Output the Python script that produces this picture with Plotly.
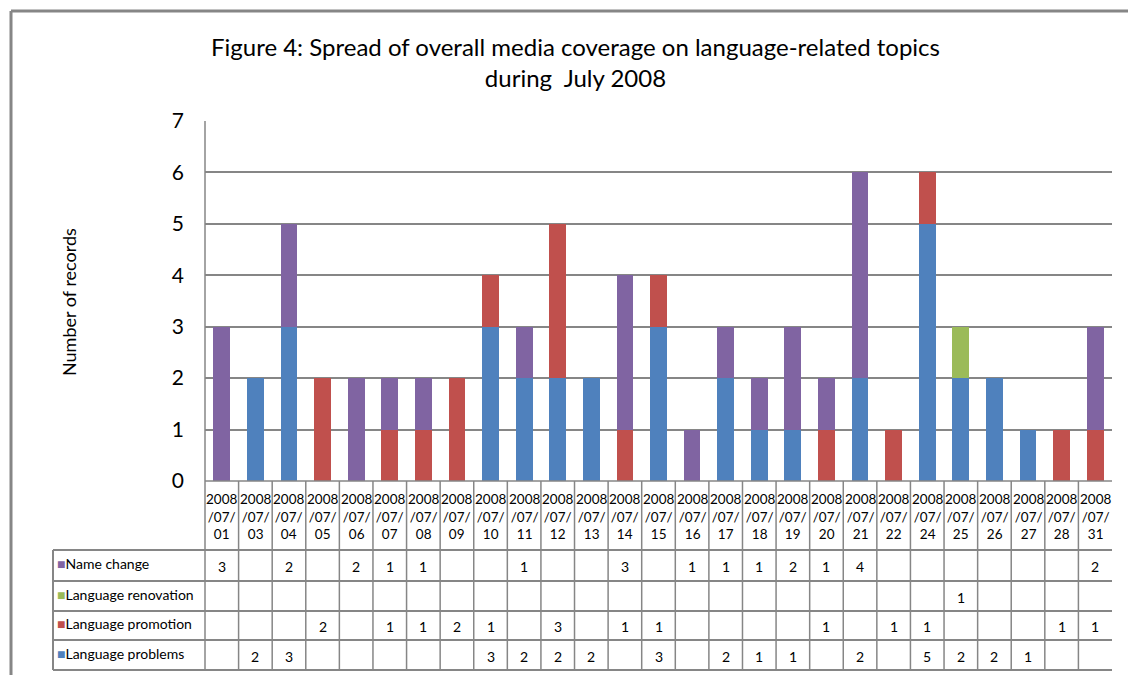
import plotly.graph_objects as go

# days of July 2008 that had records
days = ["01", "03", "04", "05", "06", "07", "08", "09", "10", "11", "12", "13", "14", "15",
        "16", "17", "18", "19", "20", "21", "22", "24", "25", "26", "27", "28", "31"]
categories = ["2008/07/" + d for d in days]

name_change = [3, None, 2, None, 2, 1, 1, None, None, 1, None, None, 3, None,
               1, 1, 1, 2, 1, 4, None, None, None, None, None, None, 2]
language_renovation = [None] * 22 + [1] + [None] * 4
language_promotion = [None, None, None, 2, None, 1, 1, 2, 1, None, 3, None, 1, 1,
                      None, None, None, None, 1, None, 1, 1, None, None, None, 1, 1]
language_problems = [None, 2, 3, None, None, None, None, None, 3, 2, 2, 2, None, 3,
                     None, 2, 1, 1, None, 2, None, 5, 2, 2, 1, None, None]

# bottom to top in the stack
series = [
    ("Language problems", language_problems, "#4F81BD"),
    ("Language promotion", language_promotion, "#C0504D"),
    ("Language renovation", language_renovation, "#9BBB59"),
    ("Name change", name_change, "#8064A2"),
]
# order of rows in the data table
table_rows = [series[3], series[2], series[1], series[0]]

W, H = 1128, 675
FONT = "Lato"
GRID = "#868686"


def px(x):
    return x / W


def py(y):
    return 1 - y / H


plot_left, plot_right, plot_top, plot_bottom = 205, 1112, 121, 481
table_left = 53
row_lines = [550, 581, 611, 640, 670]

fig = go.Figure()
for name, vals, color in series:
    fig.add_trace(go.Bar(x=categories, y=vals, name=name, marker=dict(color=color, line=dict(width=0)),
                         showlegend=False, hoverinfo="skip"))

shapes = []
# outer frame (kept inside the paper)
shapes.append(dict(type="line", xref="paper", yref="paper", x0=px(11), x1=px(11), y0=py(11), y1=0,
                   line=dict(color=GRID, width=3)))
shapes.append(dict(type="line", xref="paper", yref="paper", x0=px(11), x1=1, y0=py(11), y1=py(11),
                   line=dict(color=GRID, width=3)))
# plot area left border
shapes.append(dict(type="line", xref="paper", yref="paper", x0=px(plot_left), x1=px(plot_left),
                   y0=py(plot_top), y1=py(row_lines[-1]), line=dict(color=GRID, width=1.5)))
# table horizontal lines
shapes.append(dict(type="line", xref="paper", yref="paper", x0=px(plot_left), x1=px(plot_right),
                   y0=py(plot_bottom), y1=py(plot_bottom), line=dict(color=GRID, width=1.5)))
for yl in row_lines:
    shapes.append(dict(type="line", xref="paper", yref="paper", x0=px(table_left), x1=px(plot_right),
                       y0=py(yl), y1=py(yl), line=dict(color=GRID, width=2)))
shapes.append(dict(type="line", xref="paper", yref="paper", x0=px(table_left), x1=px(table_left),
                   y0=py(row_lines[0]), y1=py(row_lines[-1]), line=dict(color=GRID, width=2)))
# table vertical lines between categories
for i in range(len(categories) - 1):
    shapes.append(dict(type="line", xref="x", yref="paper", x0=i + 0.5, x1=i + 0.5,
                       y0=py(plot_bottom), y1=py(row_lines[-1]), line=dict(color=GRID, width=1.5)))

annotations = [
    dict(text="Figure 4: Spread of overall media coverage on language-related topics<br>during  July 2008",
         xref="paper", yref="paper", x=px(575), y=py(62), showarrow=False,
         font=dict(family=FONT, size=24, color="black"), xanchor="center", yanchor="middle"),
    dict(text="Number of records", xref="paper", yref="paper", x=px(56), y=py(302), textangle=-90,
         showarrow=False, font=dict(family=FONT, size=18, color="black")),
]
# category labels
for c in categories:
    y, m, d = c.split("/")
    annotations.append(dict(text=f"{y}<br>/{m}/<br>{d}", xref="x", yref="paper", x=c, y=py(516),
                            showarrow=False, font=dict(family=FONT, size=13.5, color="black"),
                            align="center", yanchor="middle"))
# data table rows
for r, (name, vals, color) in enumerate(table_rows):
    yc = (row_lines[r] + row_lines[r + 1]) / 2
    annotations.append(dict(text=f"<span style='color:{color}'>■</span>{name}", xref="paper", yref="paper",
                            x=px(55), y=py(yc - 2), xanchor="left", yanchor="middle", showarrow=False,
                            font=dict(family=FONT, size=14, color="black")))
    for c, v in zip(categories, vals):
        if v is not None:
            annotations.append(dict(text=str(v), xref="x", yref="paper", x=c, y=py(yc + 1),
                                    xanchor="center", yanchor="middle",
                                    showarrow=False, font=dict(family=FONT, size=14, color="black")))

fig.update_layout(
    width=W, height=H,
    margin=dict(l=0, r=0, t=0, b=0, autoexpand=False),
    plot_bgcolor="white", paper_bgcolor="white",
    barmode="stack", bargap=0.5,
    shapes=shapes, annotations=annotations,
    xaxis=dict(domain=[px(plot_left), px(plot_right)], type="category", showticklabels=False,
               showgrid=False, zeroline=False, automargin=False, range=[-0.5, len(categories) - 0.5]),
    yaxis=dict(domain=[py(plot_bottom), py(plot_top)], range=[0, 7], dtick=1, showgrid=True,
               gridcolor=GRID, gridwidth=1.5, zeroline=False, ticks="", ticklabelstandoff=20,
               automargin=False, tickfont=dict(family=FONT, size=21, color="black")),
)

# drop the default body margin so the figure fills the window exactly
fig.write_html("out.html", config={"displayModeBar": False},
               post_script="document.body.style.margin='0';")
